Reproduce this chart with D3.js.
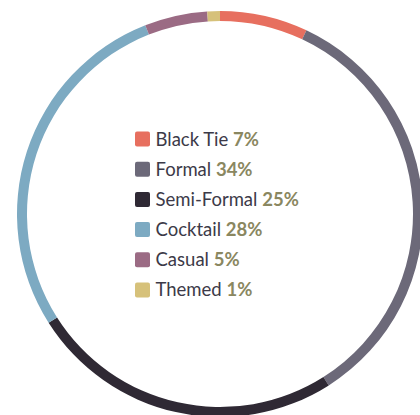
<!DOCTYPE html>
<html>
<head>
<meta charset="utf-8">
<script src="https://cdn.jsdelivr.net/npm/d3@7"></script>
<style>
  body { margin: 0; background: #fff; }
  svg { display: block; font-family: Lato, "Open Sans", sans-serif; }
</style>
</head>
<body>
<div id="chart"></div>
<script>
const categories = ['Black Tie', 'Formal', 'Semi-Formal', 'Cocktail', 'Casual', 'Themed'];
const values = [7, 34, 25, 28, 5, 1];
const colors = ['#e76f5f', '#6c6979', '#2f2934', '#7daac2', '#9b6b84', '#d6c17a'];

const width = 420, height = 415;
const cx = 220, cy = 214;
const outerR = 203, innerR = 193;

let svg = d3.select('#chart').append('svg')
            .attr('width', width)
            .attr('height', height);

let data = categories.map((c, i) => ({name: c, value: values[i], color: colors[i]}));

let pie = d3.pie().sort(null).value(d => d.value);
let arc = d3.arc().innerRadius(innerR).outerRadius(outerR);

let ring = svg.append('g').attr('transform', `translate(${cx},${cy})`);
ring.selectAll('path.slice').data(pie(data))
    .join('path')
    .attr('class', 'slice')
    .attr('d', arc)
    .attr('fill', d => d.data.color);

// legend in the middle
let rowY = d3.scaleBand().domain(categories).range([124, 305]);

let legend = svg.append('g');
let rows = legend.selectAll('g.row').data(data)
    .join('g')
    .attr('class', 'row')
    .attr('transform', d => `translate(135,${rowY(d.name) + rowY.bandwidth() / 2})`);

rows.append('rect')
    .attr('x', 0).attr('y', -7.5)
    .attr('width', 15).attr('height', 15)
    .attr('rx', 2)
    .attr('fill', d => d.color);

let txt = rows.append('text')
    .attr('x', 20.5).attr('y', 6.5)
    .style('font-size', '18.5px');
txt.append('tspan').attr('fill', '#3c3a48').text(d => d.name + ' ');
txt.append('tspan').attr('fill', '#8a8760').style('font-weight', 'bold').text(d => d.value + '%');
</script>
</body>
</html>
